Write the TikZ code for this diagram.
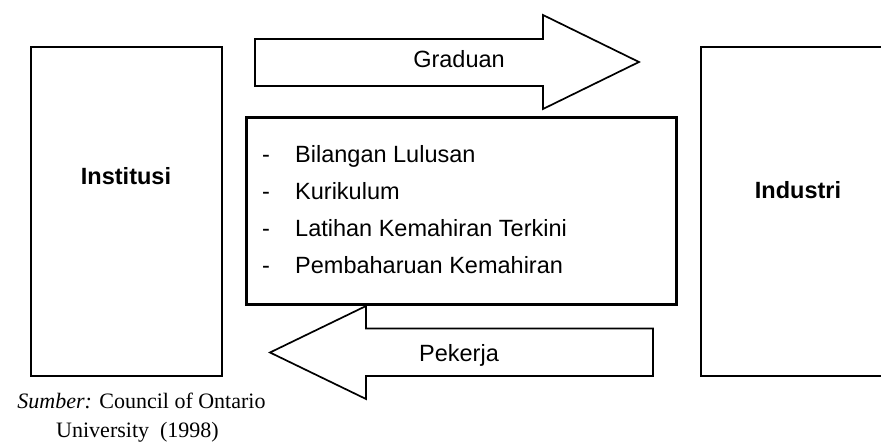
\documentclass[tikz,border=0pt]{standalone}
\usepackage{fontspec}
\setmainfont{Liberation Serif}
\newfontfamily\arialfont{Liberation Sans}

\begin{document}
\begin{tikzpicture}[x=1pt,y=-1pt,
    box/.style={draw,line width=2pt,minimum width=191pt,minimum height=329pt,inner sep=0pt},
    listbox/.style={draw,line width=3.3pt,minimum width=430pt,minimum height=187pt,inner sep=0pt},
    flow/.style={draw,line width=1.7pt,line join=miter},
    lbl/.style={font=\arialfont\fontsize{23.5}{28}\selectfont,inner sep=0pt},
    hdr/.style={font=\arialfont\bfseries\fontsize{23.5}{28}\selectfont,inner sep=0pt},
    src/.style={font=\fontsize{22}{28}\selectfont,inner sep=0pt}]
  \clip (0,0) rectangle (881,446);
  % the two sides
  \node[box] (institusi) at (126.7,211.3) {};
  \node[box] (industri) at (796,211.3) {};
  \node[hdr,anchor=base] (institusiText) at (126,185) {Institusi};
  \node[hdr,anchor=base] (industriText) at (798,199) {Industri};
  % middle box with the list
  \node[listbox] (ciri) at (461.5,211) {};
  \foreach \txt [count=\i] in {Bilangan Lulusan,Kurikulum,Latihan Kemahiran Terkini,Pembaharuan Kemahiran} {
    \node[lbl,anchor=base] (dash\i) at (266,{126+37*\i}) {-};
    \node[lbl,anchor=base west] (item\i) at (295,{126+37*\i}) {\txt};
  }
  % block arrows
  \draw[flow] (255,39) -- (543,39) -- (543,15) -- (639,62) -- (543,109) -- (543,86) -- (255,86) -- cycle;
  \node[lbl,anchor=base] (graduan) at (459,68) {Graduan};
  \draw[flow] (653,328.5) -- (366,328.5) -- (366,306) -- (270,352.5) -- (366,399) -- (366,376) -- (653,376) -- cycle;
  \node[lbl,anchor=base] (pekerja) at (459,361.5) {Pekerja};
  % source
  \node[src,anchor=base] (sumber) at (141.5,408) {\textit{Sumber:} Council of Ontario};
  \node[src,anchor=base] (tahun) at (137.5,437) {University\ \ (1998)};
\end{tikzpicture}
\end{document}
